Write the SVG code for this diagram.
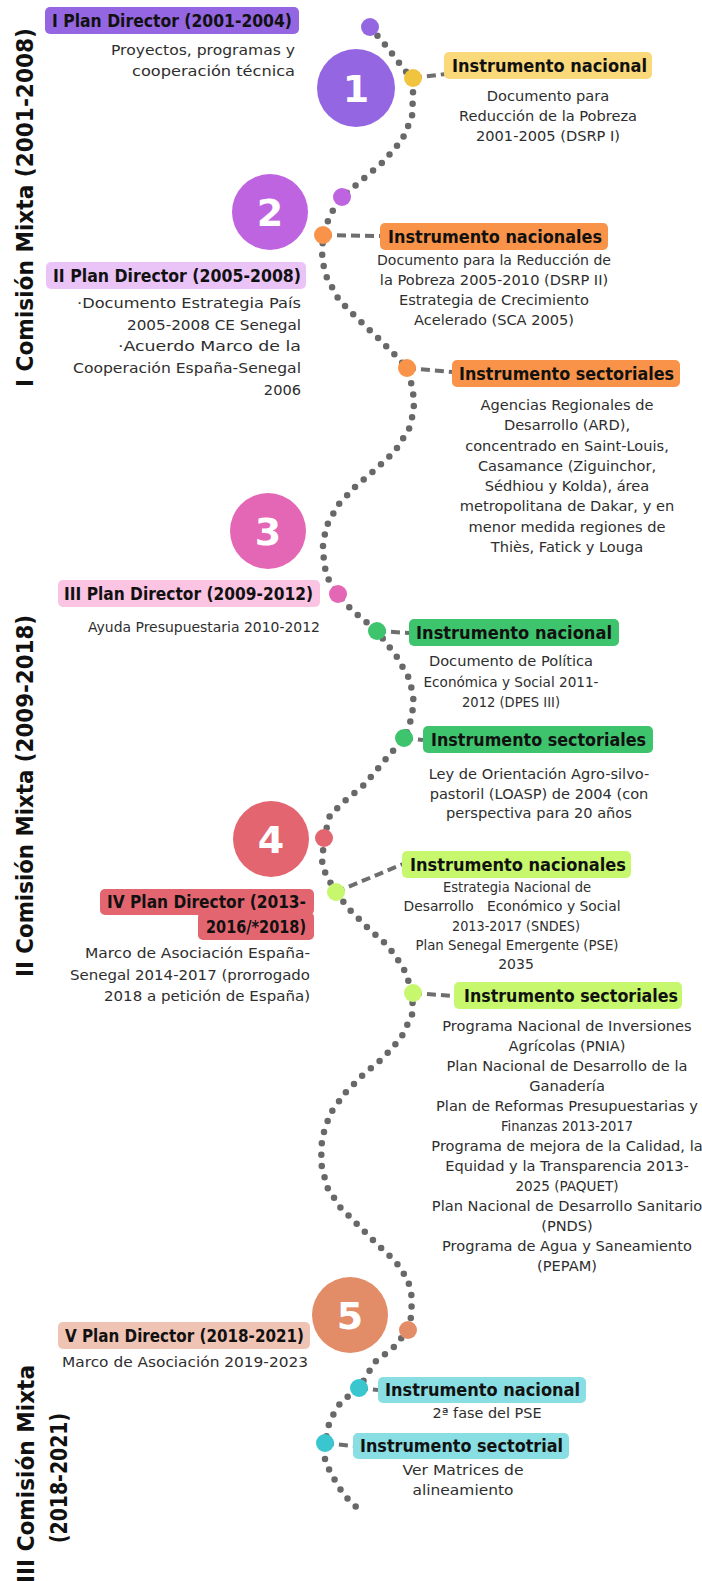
<svg xmlns="http://www.w3.org/2000/svg" width="702" height="1581" viewBox="0 0 702 1581">
<style>
.bg{fill:#ffffff}
.lbl{font-family:"DejaVu Sans","Liberation Sans",sans-serif;font-weight:bold;font-size:17px;fill:#111}
.txt{font-family:"DejaVu Sans","Liberation Sans",sans-serif;font-size:14.6px;fill:#2e2e2e}
.sm{font-size:14px}
.c{text-anchor:middle}
.r{text-anchor:end}
.side{font-family:"DejaVu Sans","Liberation Sans",sans-serif;font-weight:bold;font-size:22.5px;fill:#111}
.num{font-family:"DejaVu Sans","Liberation Sans",sans-serif;font-weight:bold;font-size:38px;fill:#fff;text-anchor:middle}
.path{fill:none;stroke:#686868;stroke-width:6.5;stroke-linecap:round;stroke-linejoin:round;stroke-dasharray:0 11.5}
.dash{fill:none;stroke:#6e6e6e;stroke-width:4;stroke-dasharray:9 5}
.p1{fill:#9566E2}.p2{fill:#BF64E0}.p3{fill:#E467B5}.p4{fill:#E3656F}.p5{fill:#E38C68}
.yel{fill:#F0C43E}.yelb{fill:#FAD97A}.org{fill:#F89349}.grn{fill:#3EC46C}.lgr{fill:#C6F76D}.cyn{fill:#3AC6CF}.cynb{fill:#88DEE3}
.p2b{fill:#EBC4F7}.p3b{fill:#FBC4E3}.p5b{fill:#F0C4B4}
</style>
<rect class="bg" x="0" y="0" width="702" height="1581"/>

<g id="side-titles">
<text class="side" transform="translate(33,387) rotate(-90)" x="0" y="0" textLength="359" lengthAdjust="spacingAndGlyphs">I Comisión Mixta (2001-2008)</text>
<text class="side" transform="translate(33,977) rotate(-90)" x="0" y="0" textLength="362" lengthAdjust="spacingAndGlyphs">II Comisión Mixta (2009-2018)</text>
<text class="side c" transform="translate(34,1474) rotate(-90)" x="0" y="0" textLength="218" lengthAdjust="spacingAndGlyphs">III Comisión Mixta</text>
<text class="side c" transform="translate(67,1478) rotate(-90)" x="0" y="0" textLength="130" lengthAdjust="spacingAndGlyphs">(2018-2021)</text>
</g>

<g id="connectors">
<path class="path" d="M370,27 L387,47 L403,68 L413,80 L413,95 L412,117 L402,140 L383,162 L356,185 L342,197 L330,215 L323,235 L322,260 L327,278 L339,300 L357,318 L378,338 L395,355 L407,368 L413,390 L414,410 L409,429 L395,451 L376,469 L356,486 L338,505 L326,527 L323,546 L324,563 L327,577 L338,594 L350,608 L360,617 L377,631 L397,657 L410,680 L414,703 L409,728 L404,738 L385,760 L364,785 L346,800 L330,815 L324,838 L322,865 L327,877 L336,892 L348,908 L368,928 L388,946 L403,967 L413,993 L412,1015 L401,1038 L383,1058 L363,1075 L345,1093 L330,1114 L322,1138 L321,1163 L327,1187 L340,1207 L358,1225 L378,1245 L396,1262 L408,1280 L412,1298 L411,1317 L408,1330 L393,1348 L375,1362 L359,1388 L341,1402 L334,1413 L329,1424 L325,1443 L325,1462 L331,1473 L338,1486 L346,1497 L355,1506 L364,1514"/>
<path class="dash" d="M413,78 L446,74"/>
<path class="dash" d="M323,235 L380,236"/>
<path class="dash" d="M407,368 L452,372"/>
<path class="dash" d="M377,631 L410,633"/>
<path class="dash" d="M404,738 L423,740"/>
<path class="dash" d="M336,892 L403,864"/>
<path class="dash" d="M413,993 L454,996"/>
<path class="dash" d="M359,1388 L378,1390"/>
<path class="dash" d="M325,1443 L353,1446"/>
</g>

<g id="node-1">
<circle class="p1" cx="370" cy="27" r="9"/>
<circle class="p1" cx="356" cy="88" r="39"/>
<text class="num" x="356" y="102">1</text>
<rect class="p1" x="45" y="7" width="254" height="27" rx="5"/>
<text class="lbl" x="52" y="26.5" textLength="240" lengthAdjust="spacingAndGlyphs">I Plan Director (2001-2004)</text>
<text class="txt r" x="295" y="55" textLength="184" lengthAdjust="spacingAndGlyphs">Proyectos, programas y</text>
<text class="txt r" x="295" y="76" textLength="163" lengthAdjust="spacingAndGlyphs">cooperación técnica</text>
</g>

<g id="inst-nac-1">
<circle class="yel" cx="413" cy="78" r="9"/>
<rect class="yelb" x="444" y="52" width="208" height="27" rx="5"/>
<text class="lbl" x="452" y="71.5" textLength="195" lengthAdjust="spacingAndGlyphs">Instrumento nacional</text>
<text class="txt c" x="548" y="101">Documento para</text>
<text class="txt c" x="548" y="121">Reducción de la Pobreza</text>
<text class="txt c" x="548" y="141">2001-2005 (DSRP I)</text>
</g>

<g id="node-2">
<circle class="p2" cx="342" cy="197" r="9"/>
<circle class="p2" cx="270" cy="212" r="38"/>
<text class="num" x="270" y="226">2</text>
<rect class="p2b" x="46" y="262" width="260" height="27" rx="5"/>
<text class="lbl" x="53" y="281.5" textLength="248" lengthAdjust="spacingAndGlyphs">II Plan Director (2005-2008)</text>
<text class="txt r" x="301" y="308" textLength="224" lengthAdjust="spacingAndGlyphs">·Documento Estrategia País</text>
<text class="txt r" x="301" y="330" textLength="174" lengthAdjust="spacingAndGlyphs">2005-2008 CE Senegal</text>
<text class="txt r" x="301" y="351" textLength="183" lengthAdjust="spacingAndGlyphs">·Acuerdo Marco de la</text>
<text class="txt r" x="301" y="373" textLength="228" lengthAdjust="spacingAndGlyphs">Cooperación España-Senegal</text>
<text class="txt r" x="301" y="395">2006</text>
</g>

<g id="inst-nac-2">
<circle class="org" cx="323" cy="235" r="9"/>
<rect class="org" x="380" y="223" width="228" height="27" rx="5"/>
<text class="lbl" x="388" y="242.5" textLength="214" lengthAdjust="spacingAndGlyphs">Instrumento nacionales</text>
<text class="txt c" x="494" y="265" textLength="234" lengthAdjust="spacingAndGlyphs">Documento para la Reducción de</text>
<text class="txt c" x="494" y="285">la Pobreza 2005-2010 (DSRP II)</text>
<text class="txt c" x="494" y="305">Estrategia de Crecimiento</text>
<text class="txt c" x="494" y="325">Acelerado (SCA 2005)</text>
</g>

<g id="inst-sec-2">
<circle class="org" cx="407" cy="368" r="9"/>
<rect class="org" x="452" y="360" width="228" height="27" rx="5"/>
<text class="lbl" x="459" y="379.5" textLength="215" lengthAdjust="spacingAndGlyphs">Instrumento sectoriales</text>
<text class="txt c" x="567" y="410">Agencias Regionales de</text>
<text class="txt c" x="567" y="430">Desarrollo (ARD),</text>
<text class="txt c" x="567" y="451">concentrado en Saint-Louis,</text>
<text class="txt c" x="567" y="471">Casamance (Ziguinchor,</text>
<text class="txt c" x="567" y="491">Sédhiou y Kolda), área</text>
<text class="txt c" x="567" y="511">metropolitana de Dakar, y en</text>
<text class="txt c" x="567" y="532">menor medida regiones de</text>
<text class="txt c" x="567" y="552">Thiès, Fatick y Louga</text>
</g>

<g id="node-3">
<circle class="p3" cx="338" cy="594" r="9"/>
<circle class="p3" cx="268" cy="531" r="38"/>
<text class="num" x="268" y="545">3</text>
<rect class="p3b" x="58" y="580" width="262" height="27" rx="5"/>
<text class="lbl" x="64" y="599.5" textLength="249" lengthAdjust="spacingAndGlyphs">III Plan Director (2009-2012)</text>
<text class="txt r" x="320" y="632" textLength="232" lengthAdjust="spacingAndGlyphs">Ayuda Presupuestaria 2010-2012</text>
</g>

<g id="inst-nac-3">
<circle class="grn" cx="377" cy="631" r="9"/>
<rect class="grn" x="409" y="619" width="210" height="27" rx="5"/>
<text class="lbl" x="416" y="638.5" textLength="196" lengthAdjust="spacingAndGlyphs">Instrumento nacional</text>
<text class="txt c" x="511" y="666">Documento de Política</text>
<text class="txt c" x="511" y="687" textLength="175" lengthAdjust="spacingAndGlyphs">Económica y Social 2011-</text>
<text class="txt c" x="511" y="707" textLength="98" lengthAdjust="spacingAndGlyphs">2012 (DPES III)</text>
</g>

<g id="inst-sec-3">
<circle class="grn" cx="404" cy="738" r="9"/>
<rect class="grn" x="423" y="726" width="230" height="27" rx="5"/>
<text class="lbl" x="431" y="745.5" textLength="215" lengthAdjust="spacingAndGlyphs">Instrumento sectoriales</text>
<text class="txt c" x="539" y="779">Ley de Orientación Agro-silvo-</text>
<text class="txt c" x="539" y="799">pastoril (LOASP) de 2004 (con</text>
<text class="txt c" x="539" y="818">perspectiva para 20 años</text>
</g>

<g id="node-4">
<circle class="p4" cx="324" cy="838" r="9"/>
<circle class="p4" cx="271" cy="839" r="38"/>
<text class="num" x="271" y="853">4</text>
<rect class="p4" x="100" y="889" width="214" height="26" rx="5"/>
<rect class="p4" x="198" y="912" width="116" height="28" rx="5"/>
<text class="lbl" x="107" y="908" textLength="199" lengthAdjust="spacingAndGlyphs">IV Plan Director (2013-</text>
<text class="lbl" x="206" y="932.5" textLength="100" lengthAdjust="spacingAndGlyphs">2016/*2018)</text>
<text class="txt r" x="310" y="958" textLength="225" lengthAdjust="spacingAndGlyphs">Marco de Asociación España-</text>
<text class="txt r" x="310" y="980" textLength="240" lengthAdjust="spacingAndGlyphs">Senegal 2014-2017 (prorrogado</text>
<text class="txt r" x="310" y="1001" textLength="206" lengthAdjust="spacingAndGlyphs">2018 a petición de España)</text>
</g>

<g id="inst-nac-4">
<circle class="lgr" cx="336" cy="892" r="9"/>
<rect class="lgr" x="402" y="851" width="229" height="27" rx="5"/>
<text class="lbl" x="410" y="870.5" textLength="216" lengthAdjust="spacingAndGlyphs">Instrumento nacionales</text>
<text class="txt sm c" x="517" y="892" textLength="148" lengthAdjust="spacingAndGlyphs">Estrategia Nacional de</text>
<text class="txt sm c" x="512" y="911" style="white-space:pre" textLength="217" lengthAdjust="spacingAndGlyphs">Desarrollo   Económico y Social</text>
<text class="txt sm c" x="516" y="931" textLength="128" lengthAdjust="spacingAndGlyphs">2013-2017 (SNDES)</text>
<text class="txt sm c" x="517" y="950" textLength="203" lengthAdjust="spacingAndGlyphs">Plan Senegal Emergente (PSE)</text>
<text class="txt sm c" x="516" y="969">2035</text>
</g>

<g id="inst-sec-4">
<circle class="lgr" cx="413" cy="993" r="9"/>
<rect class="lgr" x="454" y="982" width="228" height="27" rx="5"/>
<text class="lbl" x="464" y="1001.5" textLength="214" lengthAdjust="spacingAndGlyphs">Instrumento sectoriales</text>
<text class="txt c" x="567" y="1031">Programa Nacional de Inversiones</text>
<text class="txt c" x="567" y="1051">Agrícolas (PNIA)</text>
<text class="txt c" x="567" y="1071">Plan Nacional de Desarrollo de la</text>
<text class="txt c" x="567" y="1091">Ganadería</text>
<text class="txt c" x="567" y="1111">Plan de Reformas Presupuestarias y</text>
<text class="txt c" x="567" y="1131" textLength="132" lengthAdjust="spacingAndGlyphs">Finanzas 2013-2017</text>
<text class="txt c" x="567" y="1151">Programa de mejora de la Calidad, la</text>
<text class="txt c" x="567" y="1171">Equidad y la Transparencia 2013-</text>
<text class="txt c" x="567" y="1191" textLength="103" lengthAdjust="spacingAndGlyphs">2025 (PAQUET)</text>
<text class="txt c" x="567" y="1211">Plan Nacional de Desarrollo Sanitario</text>
<text class="txt c" x="567" y="1231">(PNDS)</text>
<text class="txt c" x="567" y="1251">Programa de Agua y Saneamiento</text>
<text class="txt c" x="567" y="1271">(PEPAM)</text>
</g>

<g id="node-5">
<circle class="p5" cx="408" cy="1330" r="9"/>
<circle class="p5" cx="350" cy="1315" r="38"/>
<text class="num" x="350" y="1329">5</text>
<rect class="p5b" x="58" y="1322" width="252" height="27" rx="5"/>
<text class="lbl" x="65" y="1341.5" textLength="239" lengthAdjust="spacingAndGlyphs">V Plan Director (2018-2021)</text>
<text class="txt r" x="308" y="1367" textLength="246" lengthAdjust="spacingAndGlyphs">Marco de Asociación 2019-2023</text>
</g>

<g id="inst-nac-5">
<circle class="cyn" cx="359" cy="1388" r="9"/>
<rect class="cynb" x="378" y="1377" width="208" height="26" rx="5"/>
<text class="lbl" x="385" y="1396" textLength="195" lengthAdjust="spacingAndGlyphs">Instrumento nacional</text>
<text class="txt c" x="487" y="1418" textLength="109" lengthAdjust="spacingAndGlyphs">2ª fase del PSE</text>
</g>

<g id="inst-sec-5">
<circle class="cyn" cx="325" cy="1443" r="9"/>
<rect class="cynb" x="353" y="1433" width="216" height="26" rx="5"/>
<text class="lbl" x="360" y="1452" textLength="203" lengthAdjust="spacingAndGlyphs">Instrumento sectotrial</text>
<text class="txt c" x="463" y="1475" textLength="121" lengthAdjust="spacingAndGlyphs">Ver Matrices de</text>
<text class="txt c" x="463" y="1495" textLength="101" lengthAdjust="spacingAndGlyphs">alineamiento</text>
</g>
</svg>
